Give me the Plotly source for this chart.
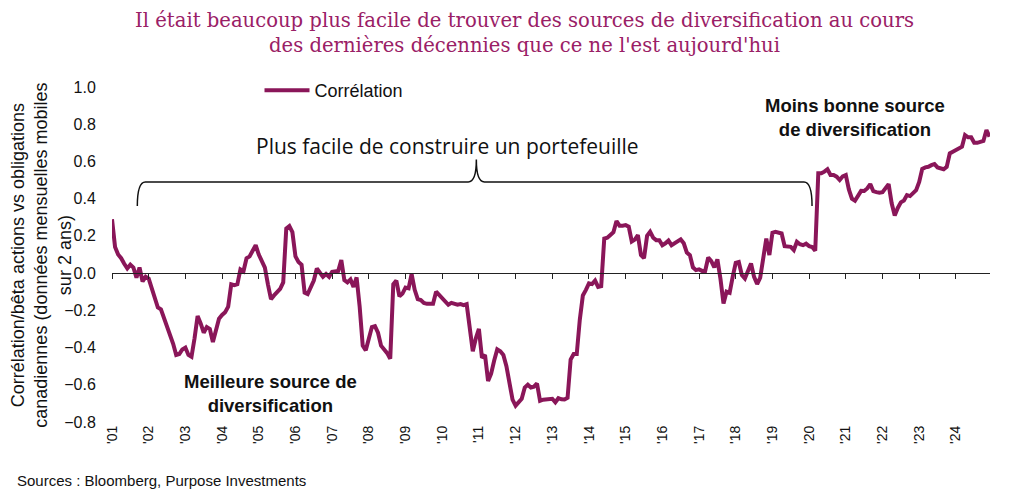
import plotly.graph_objects as go

# ---- data (monthly, Jan 2001 - Dec 2024) ----
tick_years = list(range(2001, 2025))
tick_labels = ["'01", "'02", "'03", "'04", "'05", "'06", "'07", "'08", "'09", "'10", "'11", "'12",
               "'13", "'14", "'15", "'16", "'17", "'18", "'19", "'20", "'21", "'22", "'23", "'24"]

corr_2001 = [0.29, 0.14, 0.10, 0.08, 0.05, 0.025, 0.045, 0.03, -0.025, 0.03, -0.045, -0.02]
corr_2002 = [-0.03, -0.08, -0.14, -0.185, -0.195, -0.24, -0.30, -0.33, -0.38, -0.44, -0.435, -0.41]
corr_2003 = [-0.40, -0.44, -0.45, -0.35, -0.23, -0.27, -0.32, -0.29, -0.30, -0.37, -0.30, -0.245]
corr_2004 = [-0.225, -0.21, -0.18, -0.06, -0.065, -0.06, 0.02, 0.01, 0.08, 0.09, 0.12, 0.15]
corr_2005 = [0.10, 0.07, 0.03, -0.06, -0.14, -0.12, -0.10, -0.085, -0.05, 0.24, 0.253, 0.22]
corr_2006 = [0.09, 0.06, 0.045, -0.105, -0.113, -0.08, -0.04, 0.025, 0.0, -0.02, -0.005, -0.02]
corr_2007 = [0.007, 0.01, 0.012, 0.07, -0.038, -0.05, -0.034, -0.074, -0.023, -0.18, -0.39, -0.415]
corr_2008 = [-0.35, -0.29, -0.285, -0.32, -0.39, -0.41, -0.43, -0.46, -0.06, -0.04, -0.125, -0.11]
corr_2009 = [-0.078, -0.082, -0.005, -0.09, -0.14, -0.145, -0.16, -0.165, -0.167, -0.165, -0.10, -0.118]
corr_2010 = [-0.14, -0.155, -0.17, -0.16, -0.165, -0.17, -0.166, -0.172, -0.167, -0.30, -0.42, -0.35]
corr_2011 = [-0.30, -0.455, -0.44, -0.58, -0.54, -0.47, -0.41, -0.42, -0.44, -0.50, -0.58, -0.68]
corr_2012 = [-0.712, -0.69, -0.675, -0.615, -0.60, -0.615, -0.61, -0.593, -0.686, -0.68, -0.679, -0.676]
corr_2013 = [-0.675, -0.694, -0.672, -0.678, -0.679, -0.67, -0.465, -0.435, -0.435, -0.25, -0.12, -0.09]
corr_2014 = [-0.055, -0.059, -0.04, -0.074, -0.07, 0.186, 0.19, 0.205, 0.22, 0.28, 0.255, 0.255]
corr_2015 = [0.258, 0.25, 0.17, 0.18, 0.204, 0.097, 0.08, 0.2, 0.222, 0.19, 0.177, 0.177]
corr_2016 = [0.15, 0.16, 0.175, 0.15, 0.16, 0.168, 0.181, 0.16, 0.11, 0.097, 0.031, 0.016]
corr_2017 = [0.02, 0.012, 0.012, 0.084, 0.065, 0.031, 0.074, -0.03, -0.163, -0.1, -0.106, -0.02]
corr_2018 = [0.055, 0.06, -0.01, -0.029, 0.016, 0.052, -0.02, -0.059, -0.025, 0.097, 0.186, 0.097]
corr_2019 = [0.217, 0.222, 0.218, 0.213, 0.145, 0.142, 0.141, 0.124, 0.168, 0.155, 0.15, 0.158]
corr_2020 = [0.145, 0.14, 0.12, 0.536, 0.536, 0.545, 0.558, 0.527, 0.527, 0.518, 0.50, 0.52]
corr_2021 = [0.527, 0.45, 0.40, 0.389, 0.42, 0.442, 0.441, 0.455, 0.478, 0.44, 0.435, 0.432]
corr_2022 = [0.435, 0.46, 0.478, 0.375, 0.31, 0.35, 0.38, 0.39, 0.419, 0.414, 0.43, 0.446]
corr_2023 = [0.49, 0.56, 0.568, 0.571, 0.58, 0.586, 0.568, 0.562, 0.558, 0.571, 0.643, 0.652]
corr_2024 = [0.66, 0.67, 0.679, 0.742, 0.73, 0.73, 0.70, 0.70, 0.706, 0.71, 0.769, 0.733]

yearly = [corr_2001, corr_2002, corr_2003, corr_2004, corr_2005, corr_2006, corr_2007, corr_2008,
          corr_2009, corr_2010, corr_2011, corr_2012, corr_2013, corr_2014, corr_2015, corr_2016,
          corr_2017, corr_2018, corr_2019, corr_2020, corr_2021, corr_2022, corr_2023, corr_2024]

x_vals, y_vals = [], []
for yr, months in zip(tick_years, yearly):
    for i, v in enumerate(months):
        x_vals.append(yr + i / 12)
        y_vals.append(v)

LINE_COL = "#8A1659"
TITLE_COL = "#9A2066"
SANS = "Liberation Sans, Arial, sans-serif"
SERIF = "DejaVu Serif, Liberation Serif, serif"

fig = go.Figure()
fig.add_trace(go.Scatter(x=x_vals, y=y_vals, mode="lines", name="Corrélation",
                         line=dict(color=LINE_COL, width=4)))

# overlay axis drawn along y = 0 with ticks
fig.add_trace(go.Scatter(x=[2001, 2024.93], y=[None, None], xaxis="x2", showlegend=False,
                         hoverinfo="skip"))

X_RANGE = [2001, 2024.93]
Y_RANGE = [-0.8, 1.0]

fig.update_layout(
    width=1016, height=496,
    margin=dict(l=104, r=34, t=79, b=82, autoexpand=False),
    plot_bgcolor="white", paper_bgcolor="white",
    legend=dict(x=0.168, y=1.045, xanchor="left", yanchor="top", bgcolor="rgba(0,0,0,0)",
                itemwidth=45,
                font=dict(family=SANS, size=18, color="#111")),
    xaxis=dict(range=X_RANGE, tickmode="array", tickvals=tick_years, ticktext=tick_labels,
               tickangle=-90, showgrid=False, zeroline=False, showline=False, ticks="",
               automargin=False,
               tickfont=dict(family=SANS, size=14, color="#111")),
    xaxis2=dict(range=X_RANGE, overlaying="x", anchor="free", position=0.8 / 1.8,
                tickmode="array", tickvals=tick_years, showticklabels=False,
                showline=True, linecolor="#222", linewidth=1.3,
                ticks="outside", ticklen=5, tickcolor="#222", tickwidth=1.3,
                showgrid=False, zeroline=False),
    yaxis=dict(range=Y_RANGE, tickmode="array", tickvals=[-0.8, -0.6, -0.4, -0.2, 0, 0.2, 0.4, 0.6, 0.8, 1.0],
               tickformat=".1f", showgrid=False, zeroline=False, showline=False, automargin=False,
               ticks="outside", ticklen=12, tickcolor="rgba(0,0,0,0)",
               tickfont=dict(family=SANS, size=16, color="#111")),
)

# y-axis title (rotated, three lines)
fig.add_annotation(x=-0.0812, y=0.4985, xref="paper", yref="paper", showarrow=False,
                   xanchor="center", yanchor="middle", textangle=-90,
                   text="Corrélation/bêta actions vs obligations<br>canadiennes (données mensuelles mobiles<br>sur 2 ans)",
                   font=dict(family=SANS, size=18, color="#111"))

# title (two centred lines)
fig.add_annotation(x=0.470, y=1.20, xref="paper", yref="paper", showarrow=False,
                   xanchor="center", yanchor="middle",
                   text="Il était beaucoup plus facile de trouver des sources de diversification au cours",
                   font=dict(family=SERIF, size=19.6, color=TITLE_COL))
fig.add_annotation(x=0.470, y=1.1224, xref="paper", yref="paper", showarrow=False,
                   xanchor="center", yanchor="middle",
                   text="des dernières décennies que ce ne l'est aujourd'hui",
                   font=dict(family=SERIF, size=19.6, color=TITLE_COL))

# curly brace
bx0, bxm, bx1 = 2001.69, 2010.93, 2020.08
by_end, by_h, by_top = 0.36, 0.49, 0.61
dx = 0.22
brace = (f"M {bx0},{by_end} Q {bx0},{by_h} {bx0+dx},{by_h} L {bxm-dx},{by_h} "
         f"Q {bxm},{by_h} {bxm},{by_top} Q {bxm},{by_h} {bxm+dx},{by_h} "
         f"L {bx1-dx},{by_h} Q {bx1},{by_h} {bx1},{by_end}")
fig.add_shape(type="path", path=brace, xref="x", yref="y", line=dict(color="#111", width=1.5))

fig.add_annotation(x=2010.14, y=0.685, xref="x", yref="y", text="Plus facile de construire un portefeuille",
                   showarrow=False, xanchor="center", yanchor="middle",
                   font=dict(family="Open Sans, " + SANS, size=21, color="#111"))
fig.add_annotation(x=2005.31, y=-0.645, xref="x", yref="y", text="<b>Meilleure source de<br>diversification</b>",
                   showarrow=False, xanchor="center", yanchor="middle",
                   font=dict(family=SANS, size=18.5, color="#111"))
fig.add_annotation(x=2021.25, y=0.835, xref="x", yref="y", text="<b>Moins bonne source<br>de diversification</b>",
                   showarrow=False, xanchor="center", yanchor="middle",
                   font=dict(family=SANS, size=18.5, color="#111"))
fig.add_annotation(x=-0.1105, y=-0.176, xref="paper", yref="paper", xanchor="left", yanchor="middle",
                   text="Sources : Bloomberg, Purpose Investments", showarrow=False,
                   font=dict(family=SANS, size=15, color="#111"))

fig.write_html("out.html")
